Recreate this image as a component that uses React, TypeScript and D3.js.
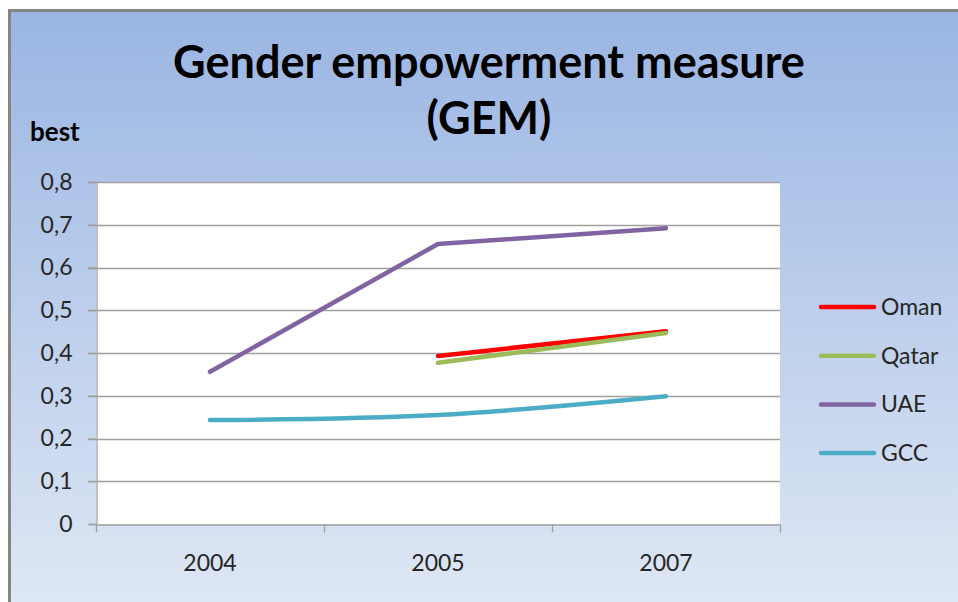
import React, { useEffect, useRef } from 'react';
import * as d3 from 'd3';

const years = ['2004', '2005', '2007'];
const yTicks = [0, 0.1, 0.2, 0.3, 0.4, 0.5, 0.6, 0.7, 0.8];

const oman = [null, 0.393, 0.451];
const qatar = [null, 0.377, 0.447];
const uae = [0.356, 0.655, 0.692];
const gcc = [0.243, 0.255, 0.299];

const seriesNames = ['Oman', 'Qatar', 'UAE', 'GCC'];
const seriesColors = ['#ff0000', '#9bbb59', '#8064a2', '#4bacc6'];

const W = 958;
const H = 602;
const FONT = 'Lato, "Open Sans", sans-serif';

export default function App() {
  const svgRef = useRef<SVGSVGElement>(null);

  useEffect(() => {
    const svg = d3.select(svgRef.current);
    svg.selectAll('*').remove();

    // background gradient
    const defs = svg.append('defs');
    const grad = defs
      .append('linearGradient')
      .attr('id', 'bg')
      .attr('x1', 0)
      .attr('y1', 0)
      .attr('x2', 0)
      .attr('y2', 1);
    grad.append('stop').attr('offset', '0%').attr('stop-color', '#9ab5e3');
    grad.append('stop').attr('offset', '100%').attr('stop-color', '#dee7f4');

    svg.append('rect').attr('width', W).attr('height', H).attr('fill', '#fff');
    svg
      .append('rect')
      .attr('x', 9)
      .attr('y', 10)
      .attr('width', W - 9)
      .attr('height', H - 10)
      .attr('fill', 'url(#bg)');
    svg
      .append('path')
      .attr('d', `M9.5,${H} V10.5 H${W}`)
      .attr('fill', 'none')
      .attr('stroke', '#858585')
      .attr('stroke-width', 3);

    const margin = { left: 96, right: 178, top: 182, bottom: 78 };
    const x = d3
      .scaleBand()
      .domain(years)
      .range([margin.left, W - margin.right]);
    const y = d3
      .scaleLinear()
      .domain([0, 0.8])
      .range([H - margin.bottom, margin.top]);

    // plot area
    svg
      .append('rect')
      .attr('x', margin.left)
      .attr('y', margin.top)
      .attr('width', W - margin.left - margin.right)
      .attr('height', H - margin.top - margin.bottom)
      .attr('fill', '#fff');

    // gridlines
    svg
      .append('g')
      .selectAll('line')
      .data(yTicks.filter((t) => t > 0))
      .join('line')
      .attr('x1', margin.left - 8)
      .attr('x2', W - margin.right)
      .attr('y1', (d) => Math.round(y(d)) + 0.5)
      .attr('y2', (d) => Math.round(y(d)) + 0.5)
      .attr('stroke', '#a0a0a0')
      .attr('stroke-width', 1.3);

    // y axis
    const yAxis = d3
      .axisLeft(y)
      .tickValues(yTicks)
      .tickSize(8)
      .tickPadding(16)
      .tickFormat((d) => String(d).replace('.', ','));
    const yg = svg
      .append('g')
      .attr('transform', `translate(${margin.left + 0.5},0)`)
      .call(yAxis);
    yg.select('.domain').attr('stroke', '#a0a0a0').attr('stroke-width', 1.3);
    yg.selectAll('.tick line').attr('stroke', '#a0a0a0').attr('stroke-width', 1.3);
    yg.selectAll('.tick text')
      .attr('fill', '#262626')
      .style('font-family', FONT)
      .style('font-size', '23px');

    // x axis
    const xAxis = d3.axisBottom(x).tickSize(0).tickPadding(30);
    const xg = svg
      .append('g')
      .attr('transform', `translate(0,${H - margin.bottom + 0.5})`)
      .call(xAxis);
    xg.select('.domain').attr('stroke', '#a0a0a0').attr('stroke-width', 1.3);
    xg.selectAll('.tick text')
      .attr('fill', '#262626')
      .style('font-family', FONT)
      .style('font-size', '23px');
    const bounds = [...years.map((c) => x(c) as number), W - margin.right];
    xg.selectAll('.sep')
      .data(bounds)
      .join('line')
      .attr('class', 'sep')
      .attr('x1', (d) => Math.round(d) + 0.5)
      .attr('x2', (d) => Math.round(d) + 0.5)
      .attr('y1', 0)
      .attr('y2', 8)
      .attr('stroke', '#a0a0a0')
      .attr('stroke-width', 1.3);

    // lines
    const allSeries = [oman, qatar, uae, gcc];
    const cx = (i: number) => (x(years[i]) as number) + x.bandwidth() / 2;
    allSeries.forEach((vals, si) => {
      const pts = vals
        .map((v, i) => (v == null ? null : ([cx(i), y(v)] as [number, number])))
        .filter((p) => p != null) as [number, number][];
      const line = d3
        .line()
        .curve(si === 3 ? d3.curveCatmullRom.alpha(0.5) : d3.curveLinear);
      svg
        .append('path')
        .attr('d', line(pts))
        .attr('fill', 'none')
        .attr('stroke', seriesColors[si])
        .attr('stroke-width', 4.5)
        .attr('stroke-linecap', 'round')
        .attr('stroke-linejoin', 'round');
    });

    // legend
    const lg = svg.append('g');
    seriesNames.forEach((name, i) => {
      const ly = 307 + i * 48.7;
      lg.append('line')
        .attr('x1', 821)
        .attr('x2', 874)
        .attr('y1', ly)
        .attr('y2', ly)
        .attr('stroke', seriesColors[i])
        .attr('stroke-width', 4.5)
        .attr('stroke-linecap', 'round');
      lg.append('text')
        .attr('x', 881)
        .attr('y', ly)
        .attr('dy', '0.35em')
        .attr('fill', '#262626')
        .style('font-family', FONT)
        .style('font-size', '23px')
        .text(name);
    });

    // title
    const title = svg
      .append('text')
      .attr('text-anchor', 'middle')
      .attr('fill', '#000')
      .style('font-family', FONT)
      .style('font-weight', 'bold')
      .style('font-size', '45px');
    title.append('tspan').attr('x', 489).attr('y', 78).text('Gender empowerment measure');
    title.append('tspan').attr('x', 489).attr('y', 134).text('(GEM)');

    svg
      .append('text')
      .attr('x', 30)
      .attr('y', 141)
      .attr('fill', '#000')
      .style('font-family', FONT)
      .style('font-weight', 'bold')
      .style('font-size', '26px')
      .text('best');
  }, []);

  return (
    <svg
      ref={svgRef}
      width={W}
      height={H}
      style={{ position: 'absolute', left: 0, top: 0 }}
    />
  );
}
